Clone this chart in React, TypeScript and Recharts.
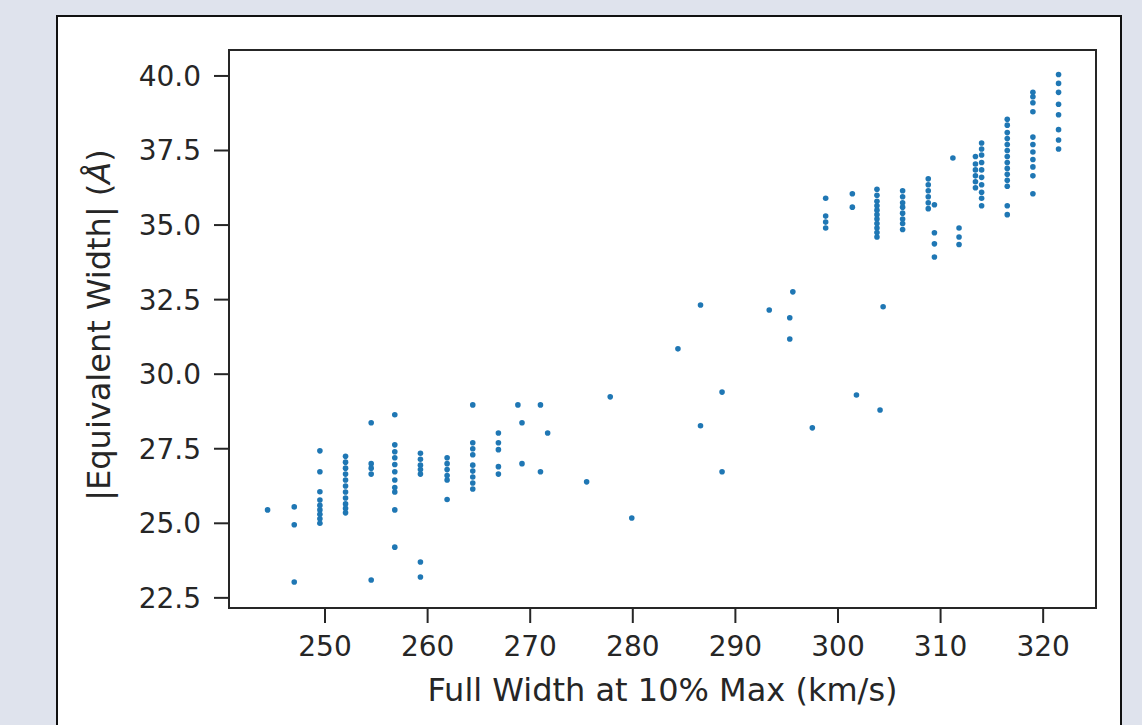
import { ReferenceArea, Scatter, ScatterChart, XAxis, YAxis } from "recharts";

// velocity columns (km/s) and the |EW| values measured in each
const colX = [
  244.4, 247.0, 249.5, 252.0, 254.5, 256.8, 259.3, 261.9, 264.4, 266.9,
  298.8, 301.4, 303.8, 306.3, 308.8, 309.4, 311.8, 313.4, 314.0, 316.5, 319.0, 321.5,
];
const colY = [
  [25.45],
  [25.55, 24.95, 23.03],
  [27.43, 26.73, 26.06, 25.78, 25.6, 25.45, 25.3, 25.15, 25.0],
  [27.25, 27.05, 26.85, 26.65, 26.45, 26.25, 26.05, 25.85, 25.65, 25.5, 25.35],
  [28.37, 27.0, 26.85, 26.65, 23.1],
  [28.64, 27.63, 27.4, 27.2, 26.97, 26.73, 26.45, 26.2, 26.05, 25.45, 24.2],
  [27.35, 27.15, 26.95, 26.8, 26.65, 23.7, 23.2],
  [27.2, 27.0, 26.8, 26.6, 26.45, 25.8],
  [28.97, 27.7, 27.5, 27.3, 26.95, 26.75, 26.55, 26.35, 26.15],
  [28.03, 27.7, 27.47, 26.9, 26.65],
  [35.9, 35.3, 35.1, 34.9],
  [36.05, 35.6],
  [36.2, 36.0, 35.8, 35.65, 35.5, 35.35, 35.2, 35.05, 34.9, 34.75, 34.6],
  [36.15, 35.95, 35.75, 35.6, 35.4, 35.2, 35.05, 34.85],
  [36.55, 36.35, 36.15, 35.95, 35.75, 35.55],
  [35.68, 34.74, 34.37, 33.93],
  [34.9, 34.6, 34.35],
  [37.3, 37.05, 36.85, 36.65, 36.45, 36.25],
  [37.75, 37.55, 37.35, 37.1, 36.85, 36.6, 36.35, 36.1, 35.9, 35.65],
  [38.55, 38.35, 38.1, 37.9, 37.7, 37.5, 37.3, 37.1, 36.9, 36.7, 36.5, 36.3, 35.65, 35.35],
  [39.45, 39.3, 39.1, 38.8, 37.95, 37.7, 37.45, 37.2, 36.95, 36.65, 36.05],
  [40.05, 39.75, 39.45, 39.05, 38.7, 38.2, 37.85, 37.55],
];

// the loose points in between
const looseX = [
  268.8, 269.2, 269.2, 271.0, 271.0, 271.7, 275.5, 277.8, 279.9, 284.4, 286.6,
  286.6, 288.7, 288.7, 293.3, 295.6, 295.3, 295.3, 297.5, 301.8, 304.1, 304.4, 311.2,
];
const looseY = [
  28.97, 28.37, 27.0, 28.97, 26.73, 28.03, 26.39, 29.24, 25.18, 30.85, 32.32,
  28.27, 29.4, 26.73, 32.15, 32.76, 31.89, 31.18, 28.2, 29.3, 28.8, 32.26, 37.25,
];

const xTicks = [250, 260, 270, 280, 290, 300, 310, 320];
const yTicks = [22.5, 25, 27.5, 30, 32.5, 35, 37.5, 40];
const xDomain = [240.64, 325.15];
const yDomain = [22.16, 40.87];

const points = [
  ...colX.flatMap((x, i) => colY[i].map((y) => ({ x, y }))),
  ...looseX.map((x, i) => ({ x, y: looseY[i] })),
];

const FONT = "'DejaVu Sans', sans-serif";
const INK = "#262626";
const tickStyle = { fontSize: 28, fill: INK, fontFamily: FONT };
const LABEL_SIZE = 32;

function Dot(props: any) {
  return <circle cx={props.cx} cy={props.cy} r={2.8} fill="#1f77b4" />;
}

export default function App() {
  return (
    <div style={{ position: "fixed", left: 0, top: 0, width: 1142, height: 725, background: "#dfe3ed", overflow: "hidden" }}>
      <div
        style={{
          position: "absolute",
          left: 56,
          top: 15,
          width: 1062,
          height: 740,
          background: "#fff",
          border: "2px solid #111",
        }}
      />
      <div style={{ position: "absolute", left: 0, top: 0 }}>
        <ScatterChart width={1142} height={725} margin={{ top: 50, right: 46, bottom: 17, left: 149 }}>
          <XAxis
            type="number"
            dataKey="x"
            domain={xDomain}
            ticks={xTicks}
            allowDataOverflow
            height={100}
            tickSize={15}
            tickMargin={13}
            tick={tickStyle}
            stroke={INK}
            axisLine={{ stroke: INK, strokeWidth: 2 }}
            tickLine={{ stroke: INK, strokeWidth: 2 }}
            label={{
              content: (p: any) => {
                const vb = p.viewBox;
                return (
                  <text x={vb.x + vb.width / 2} y={701} textAnchor="middle" fontSize={LABEL_SIZE} fontFamily={FONT} fill={INK}>
                    Full Width at 10% Max (km/s)
                  </text>
                );
              },
            }}
          />
          <YAxis
            type="number"
            dataKey="y"
            domain={yDomain}
            ticks={yTicks}
            allowDataOverflow
            width={80}
            tickSize={15}
            tickMargin={13}
            tick={tickStyle}
            tickFormatter={(v: number) => v.toFixed(1)}
            stroke={INK}
            axisLine={{ stroke: INK, strokeWidth: 2 }}
            tickLine={{ stroke: INK, strokeWidth: 2 }}
            label={{
              content: (p: any) => {
                const vb = p.viewBox;
                const cy = vb.y + vb.height / 2 - 4;
                return (
                  <text
                    x={99}
                    y={cy}
                    dy="0.35em"
                    transform={`rotate(-90, 99, ${cy})`}
                    textAnchor="middle"
                    fontSize={LABEL_SIZE}
                    fontFamily={FONT}
                    fill={INK}
                  >
                    |Equivalent Width| (<tspan fontStyle="italic">Å</tspan>)
                  </text>
                );
              },
            }}
          />
          <ReferenceArea
            x1={xDomain[0]}
            x2={xDomain[1]}
            y1={yDomain[0]}
            y2={yDomain[1]}
            fill="none"
            fillOpacity={0}
            stroke={INK}
            strokeWidth={2}
          />
          <Scatter data={points} shape={<Dot />} isAnimationActive={false} />
        </ScatterChart>
      </div>
    </div>
  );
}
